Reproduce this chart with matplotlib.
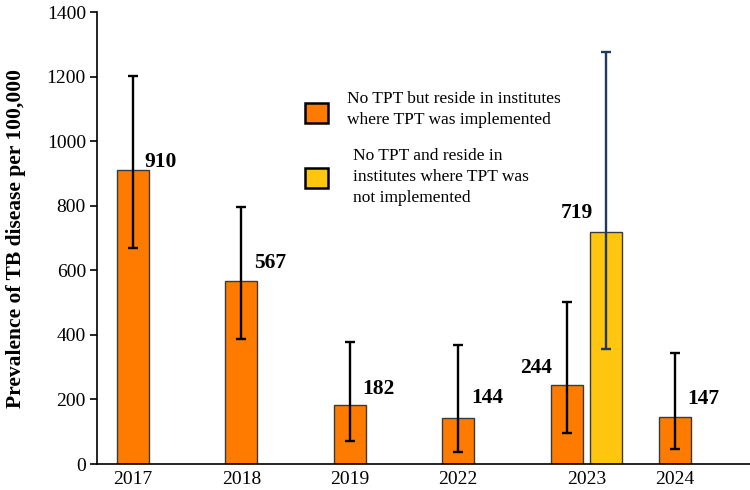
import matplotlib
matplotlib.use('Agg')
import matplotlib.pyplot as plt
from matplotlib.patches import Rectangle

# Data
years = ['2017', '2018', '2019', '2022', '2023', '2024']
impl_prev = [910, 567, 182, 144, 244, 147]
impl_low = [670, 387, 71, 37, 95, 46]
impl_high = [1204, 796, 377, 368, 501, 343]

notimpl_year = '2023'
notimpl_prev = 719
notimpl_low = 356
notimpl_high = 1276

legend_labels = ['No TPT but reside in institutes\nwhere TPT was implemented',
                 'No TPT and reside in\ninstitutes where TPT was\nnot implemented']

plt.rcParams['font.family'] = ['Liberation Serif', 'DejaVu Serif']

ORANGE = '#FF7B00'
YELLOW = '#FFC60F'
EDGE = '#3a3a3a'

fig = plt.figure(figsize=(7.5, 4.9), dpi=100)
ax = fig.add_axes([97 / 750, 1 - 464 / 490, 1 - 97 / 750, (464 - 12.3) / 490])

w = 0.295
xs = list(range(len(years)))
yi = years.index(notimpl_year)
x_yel = yi + 0.36

# orange bars + error bars
ax.bar(xs, impl_prev, width=w, color=ORANGE, edgecolor=EDGE, linewidth=1.0, zorder=2)
err = [[v - lo for v, lo in zip(impl_prev, impl_low)],
       [hi - v for v, hi in zip(impl_prev, impl_high)]]
ax.errorbar(xs, impl_prev, yerr=err, fmt='none', ecolor='black', elinewidth=1.7,
            capsize=3.5, capthick=1.7, zorder=3)

# yellow bar
ax.bar([x_yel], [notimpl_prev], width=w, color=YELLOW, edgecolor=EDGE, linewidth=1.0, zorder=2)
ax.errorbar([x_yel], [notimpl_prev],
            yerr=[[notimpl_prev - notimpl_low], [notimpl_high - notimpl_prev]],
            fmt='none', ecolor='#1F3A5C', elinewidth=1.7, capsize=3.5, capthick=1.7, zorder=3)

# value labels (offsets in pixels)
offsets = [(28, 8), (29, 18), (29, 16), (29, 20), (-31, 17), (28, 18)]
for x, v, off in zip(xs, impl_prev, offsets):
    ax.annotate(str(v), (x, v), xytext=off, textcoords='offset pixels',
                ha='center', va='center', fontsize=15.5, fontweight='bold')
ax.annotate(str(notimpl_prev), (x_yel, notimpl_prev), xytext=(-29, 19),
            textcoords='offset pixels', ha='center', va='center',
            fontsize=15.5, fontweight='bold')

ax.set_xlim(-0.332, 5.69)
ax.set_ylim(0, 1400)
ax.set_yticks(range(0, 1401, 200))
tick_pos = [x for x in xs]
tick_pos[yi] = yi + 0.18
ax.set_xticks(tick_pos)
ax.set_xticklabels(years, fontsize=14)
ax.tick_params(axis='x', length=0, pad=5)
ax.tick_params(axis='y', labelsize=14, length=5, width=1.2, direction='out', pad=3)
for s in ['top', 'right']:
    ax.spines[s].set_visible(False)
ax.spines['left'].set_linewidth(1.2)
ax.spines['bottom'].set_linewidth(1.2)
ax.set_ylabel('Prevalence of TB disease per 100,000', fontsize=15.5, fontweight='bold', labelpad=15)

# legend drawn by hand
def fx(px):
    return px / 750

def fy(py):
    return 1 - py / 490

fig.add_artist(Rectangle((fx(305), fy(123)), 23 / 750, 20 / 490, facecolor=ORANGE,
                         edgecolor='black', linewidth=1.8, transform=fig.transFigure))
fig.add_artist(Rectangle((fx(305), fy(188)), 23 / 750, 20 / 490, facecolor=YELLOW,
                         edgecolor='black', linewidth=1.8, transform=fig.transFigure))
fig.text(fx(347), fy(109.5), legend_labels[0], fontsize=12.5, va='center', ha='left',
         linespacing=1.45)
fig.text(fx(353), fy(177), legend_labels[1], fontsize=12.5, va='center', ha='left',
         linespacing=1.45)

fig.savefig('out.png', dpi=100)
